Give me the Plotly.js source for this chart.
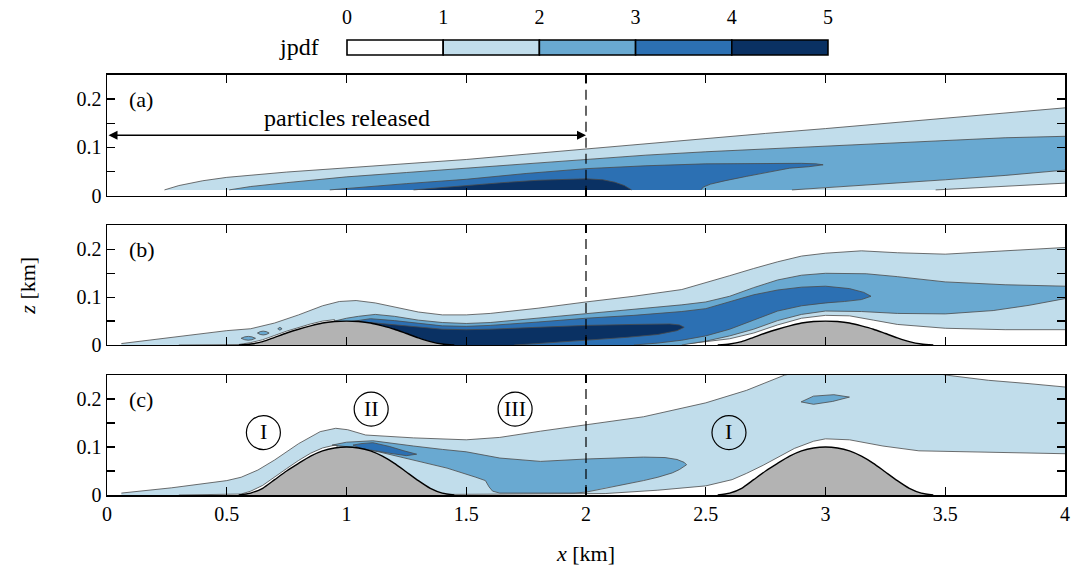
<!DOCTYPE html>
<html><head><meta charset="utf-8">
<script src="https://cdn.plot.ly/plotly-3.0.1.min.js"></script>
<style>html,body{margin:0;padding:0;background:#fff}</style>
</head><body>
<div id="chart" style="width:1082px;height:575px"></div>
<script>
// ---------- colour bar ----------
var cbLevels = [0, 1, 2, 3, 4, 5];
var cbTickText = ['0', '1', '2', '3', '4', '5'];
var levelColors = ['#ffffff', '#c1ddeb', '#69a9d1', '#2c70b3', '#0a3163'];

// ---------- panel (a) ----------
var aL1_topX = [0.24,0.3,0.4,0.5,0.75,1.0,1.25,1.5,1.75,2.0,2.25,2.5,2.75,3.0,3.25,3.5,3.75,4.0];
var aL1_topZ = [0.012,0.021,0.031,0.038,0.049,0.058,0.066,0.075,0.086,0.097,0.108,0.119,0.129,0.139,0.150,0.161,0.172,0.182];
var aL1_botX = [4.0,3.75,3.46,0.24];
var aL1_botZ = [0.026,0.019,0.012,0.012];
var aL2_topX = [0.51,0.6,0.75,1.0,1.25,1.5,1.75,2.0,2.25,2.5,2.75,3.0,3.25,3.5,3.75,4.0];
var aL2_topZ = [0.012,0.019,0.027,0.039,0.048,0.057,0.066,0.075,0.084,0.091,0.097,0.103,0.109,0.115,0.120,0.123];
var aL2_botX = [4.0,3.75,3.5,3.25,3.0,2.86,0.51];
var aL2_botZ = [0.053,0.042,0.033,0.025,0.017,0.012,0.012];
var aL3_topX = [0.93,1.0,1.25,1.5,1.75,2.0,2.25,2.5,2.75,2.9,2.96,2.99];
var aL3_topZ = [0.012,0.015,0.025,0.034,0.046,0.056,0.062,0.066,0.067,0.067,0.066,0.064];
var aL3_botX = [2.99,2.93,2.85,2.75,2.67,2.58,2.52,2.49,2.48,0.93];
var aL3_botZ = [0.064,0.060,0.057,0.048,0.040,0.031,0.024,0.018,0.012,0.012];
var aL4_topX = [1.28,1.4,1.5,1.65,1.8,1.9,2.0,2.07,2.12,2.16,2.18,2.19];
var aL4_topZ = [0.012,0.017,0.022,0.027,0.032,0.034,0.035,0.033,0.028,0.021,0.016,0.012];
var aL4_botX = [2.19,1.28];
var aL4_botZ = [0.012,0.012];

// ---------- panel (b) ----------
var bL1_topX = [0.06,0.2,0.35,0.5,0.6,0.7,0.8,0.9,0.97,1.04,1.12,1.2,1.3,1.4,1.5,1.6,1.8,2.0,2.2,2.4,2.5,2.6,2.7,2.8,2.9,3.0,3.15,3.3,3.5,3.75,4.0];
var bL1_topZ = [0.003,0.012,0.021,0.030,0.034,0.046,0.063,0.082,0.091,0.093,0.088,0.080,0.069,0.063,0.063,0.066,0.077,0.090,0.102,0.116,0.130,0.145,0.160,0.174,0.186,0.192,0.197,0.193,0.190,0.197,0.204];
var bL1_botX = [4.0,3.75,3.5,3.3,3.2,3.1,3.0,2.9,2.8,2.7,2.6,2.45,2.3,0.97,0.95,0.9,0.85,0.8,0.75,0.7,0.65,0.6,0.55,0.3,0.06];
var bL1_botZ = [0.032,0.032,0.035,0.043,0.052,0.061,0.062,0.056,0.042,0.025,0.013,0.004,0.0,0.0,0.053,0.050,0.044,0.037,0.029,0.020,0.011,0.005,0.001,0.0,0.0];
var bL2_topX = [0.95,1.0,1.05,1.12,1.2,1.3,1.4,1.5,1.6,1.8,2.0,2.2,2.4,2.5,2.6,2.7,2.8,2.9,3.0,3.17,3.3,3.5,3.75,4.0];
var bL2_topZ = [0.050,0.056,0.060,0.064,0.060,0.052,0.047,0.045,0.047,0.056,0.066,0.075,0.084,0.090,0.102,0.120,0.136,0.146,0.150,0.149,0.143,0.132,0.126,0.123];
var bL2_botX = [4.0,3.85,3.7,3.5,3.3,3.15,3.0,2.9,2.8,2.7,2.6,2.5,2.4,0.95];
var bL2_botZ = [0.097,0.083,0.072,0.065,0.066,0.070,0.071,0.064,0.051,0.033,0.019,0.008,0.0,0.0];
var bL3_topX = [1.02,1.1,1.2,1.3,1.4,1.5,1.6,1.8,2.0,2.2,2.4,2.5,2.6,2.7,2.8,2.9,3.0,3.1,3.16,3.19];
var bL3_topZ = [0.049,0.055,0.051,0.045,0.040,0.039,0.041,0.048,0.056,0.062,0.070,0.076,0.090,0.105,0.115,0.121,0.123,0.118,0.110,0.102];
var bL3_botX = [3.19,3.15,3.08,3.0,2.9,2.8,2.7,2.6,2.5,2.4,2.3,2.2,1.02];
var bL3_botZ = [0.102,0.095,0.091,0.088,0.082,0.071,0.052,0.033,0.019,0.010,0.004,0.0,0.0];
var bL4_topX = [1.1,1.2,1.25,1.3,1.4,1.5,1.6,1.8,2.0,2.2,2.35,2.39,2.41];
var bL4_topZ = [0.047,0.042,0.040,0.037,0.033,0.032,0.033,0.037,0.041,0.043,0.044,0.042,0.037];
var bL4_botX = [2.41,2.38,2.3,2.17,2.0,1.9,1.8,1.7,1.1];
var bL4_botZ = [0.037,0.030,0.022,0.016,0.010,0.006,0.003,0.0,0.0];
// small patches upstream of the first hill in (b)
var bBlob1_topX = [0.56,0.575,0.59,0.605,0.62], bBlob1_topZ = [0.014,0.017,0.018,0.017,0.014];
var bBlob1_botX = [0.62,0.605,0.59,0.575,0.56], bBlob1_botZ = [0.014,0.011,0.010,0.011,0.014];
var bBlob2_topX = [0.628,0.64,0.652,0.665,0.677], bBlob2_topZ = [0.025,0.028,0.029,0.028,0.025];
var bBlob2_botX = [0.677,0.665,0.652,0.64,0.628], bBlob2_botZ = [0.025,0.022,0.021,0.022,0.025];
var bBlob3_topX = [0.713,0.722,0.731], bBlob3_topZ = [0.034,0.037,0.034];
var bBlob3_botX = [0.731,0.722,0.713], bBlob3_botZ = [0.034,0.031,0.034];

// ---------- panel (c) ----------
var cL1_topX = [0.06,0.27,0.5,0.56,0.63,0.7,0.8,0.89,0.955,1.005,1.08,1.28,1.5,1.64,1.81,2.0,2.24,2.5,2.67,2.83,3.0,3.2,3.4,3.5,3.68,3.85,4.0];
var cL1_topZ = [0.004,0.015,0.030,0.037,0.052,0.073,0.107,0.132,0.139,0.136,0.125,0.119,0.115,0.120,0.133,0.146,0.163,0.192,0.218,0.250,0.265,0.270,0.262,0.250,0.239,0.232,0.225];
var cL1_botX = [4.0,3.75,3.53,3.39,3.24,3.1,3.0,2.95,2.87,2.8,2.74,2.67,2.61,2.5,2.3,2.08,0.97,0.96,0.9,0.85,0.8,0.75,0.7,0.65,0.6,0.56,0.3,0.06];
var cL1_botZ = [0.086,0.088,0.090,0.092,0.102,0.115,0.117,0.112,0.097,0.078,0.062,0.045,0.032,0.019,0.010,0.003,0.0,0.105,0.098,0.087,0.072,0.055,0.037,0.020,0.008,0.002,0.0,0.0];
var cL2_topX = [0.94,1.0,1.11,1.2,1.28,1.4,1.5,1.64,1.81,2.0,2.24,2.33,2.38,2.41,2.42];
var cL2_topZ = [0.104,0.110,0.113,0.108,0.102,0.095,0.090,0.077,0.070,0.075,0.079,0.078,0.074,0.068,0.063];
var cL2_botX = [2.42,2.39,2.36,2.3,2.24,2.15,2.08,2.0,1.95,1.64,1.61,1.595,1.58,1.54,1.42,1.28,1.134,1.05,0.99,0.94];
var cL2_botZ = [0.063,0.053,0.046,0.037,0.030,0.021,0.015,0.006,0.004,0.004,0.008,0.017,0.030,0.037,0.056,0.073,0.090,0.098,0.101,0.104];
var cL3_topX = [1.027,1.06,1.11,1.18,1.24,1.293];
var cL3_topZ = [0.104,0.107,0.109,0.101,0.092,0.085];
var cL3_botX = [1.293,1.25,1.18,1.134,1.06,1.027];
var cL3_botZ = [0.085,0.082,0.087,0.091,0.097,0.104];
var cBlob_topX = [2.898,2.95,3.035,3.1], cBlob_topZ = [0.194,0.206,0.209,0.204];
var cBlob_botX = [3.1,3.03,2.95,2.898], cBlob_botZ = [0.204,0.195,0.189,0.194];

// ---------- hills ----------
var hill1X = [0.55,0.6,0.65,0.7,0.75,0.8,0.85,0.9,0.95,1.0,1.05,1.1,1.15,1.2,1.25,1.3,1.35,1.4,1.45];
var hill2X = [2.55,2.6,2.65,2.7,2.75,2.8,2.85,2.9,2.95,3.0,3.05,3.1,3.15,3.2,3.25,3.3,3.35,3.4,3.45];
var hillBZ = [0,0.002,0.007,0.016,0.025,0.033,0.040,0.046,0.049,0.050,0.049,0.046,0.040,0.033,0.024,0.015,0.007,0.002,0];
var hillCZ = [0,0.004,0.014,0.032,0.050,0.066,0.081,0.092,0.098,0.100,0.098,0.092,0.081,0.066,0.048,0.030,0.014,0.004,0];

// ---------- annotations ----------
var releaseX = [0, 2], releaseZ = 0.125;
var circLabels = ['I', 'II', 'III', 'I'];
var circX = [0.653, 1.103, 1.704, 2.597];
var circZ = [0.130, 0.179, 0.179, 0.130];

// ================= drawing =================
var FONT = '"Liberation Serif", "Times New Roman", Times, serif';
var EDGE = '#4a4a4a';
var traces = [];

function region(tx, tz, bx, bz, color, xa, ya, floor) {
  traces.push({type:'scatter', mode:'lines', xaxis:xa, yaxis:ya,
    x: tx.concat(bx), y: tz.concat(bz), fill:'toself', fillcolor:color,
    line:{width:0}, hoverinfo:'skip', showlegend:false});
  var ex = tx.slice(), ez = tz.slice();
  ex.push(null); ez.push(null);
  var eps = 1e-6;
  for (var i = 0; i < bx.length; i++) {
    var up = bz[i] > floor + eps || (i > 0 && bz[i-1] > floor + eps) || (i < bx.length-1 && bz[i+1] > floor + eps);
    if (up) { ex.push(bx[i]); ez.push(bz[i]); } else { ex.push(null); ez.push(null); }
  }
  traces.push({type:'scatter', mode:'lines', xaxis:xa, yaxis:ya, x:ex, y:ez,
    line:{color:EDGE, width:0.8}, connectgaps:false, hoverinfo:'skip', showlegend:false});
}
function hill(hx, hz, xa, ya) {
  traces.push({type:'scatter', mode:'lines', xaxis:xa, yaxis:ya, x:hx, y:hz,
    fill:'tozeroy', fillcolor:'#b3b3b3', line:{color:'#000', width:1.4, shape:'spline', smoothing:0.6},
    hoverinfo:'skip', showlegend:false});
}

// (a)
region(aL1_topX, aL1_topZ, aL1_botX, aL1_botZ, levelColors[1], 'x', 'y', 0.012);
region(aL2_topX, aL2_topZ, aL2_botX, aL2_botZ, levelColors[2], 'x', 'y', 0.012);
region(aL3_topX, aL3_topZ, aL3_botX, aL3_botZ, levelColors[3], 'x', 'y', 0.012);
region(aL4_topX, aL4_topZ, aL4_botX, aL4_botZ, levelColors[4], 'x', 'y', 0.012);
// (b)
region(bL1_topX, bL1_topZ, bL1_botX, bL1_botZ, levelColors[1], 'x2', 'y2', 0);
region(bL2_topX, bL2_topZ, bL2_botX, bL2_botZ, levelColors[2], 'x2', 'y2', 0);
region(bL3_topX, bL3_topZ, bL3_botX, bL3_botZ, levelColors[3], 'x2', 'y2', 0);
region(bL4_topX, bL4_topZ, bL4_botX, bL4_botZ, levelColors[4], 'x2', 'y2', 0);
region(bBlob1_topX, bBlob1_topZ, bBlob1_botX, bBlob1_botZ, levelColors[2], 'x2', 'y2', 0);
region(bBlob2_topX, bBlob2_topZ, bBlob2_botX, bBlob2_botZ, levelColors[2], 'x2', 'y2', 0);
region(bBlob3_topX, bBlob3_topZ, bBlob3_botX, bBlob3_botZ, levelColors[2], 'x2', 'y2', 0);
hill(hill1X, hillBZ, 'x2', 'y2');
hill(hill2X, hillBZ, 'x2', 'y2');
// (c)
region(cL1_topX, cL1_topZ, cL1_botX, cL1_botZ, levelColors[1], 'x3', 'y3', 0);
region(cL2_topX, cL2_topZ, cL2_botX, cL2_botZ, levelColors[2], 'x3', 'y3', 0);
region(cL3_topX, cL3_topZ, cL3_botX, cL3_botZ, levelColors[3], 'x3', 'y3', 0);
region(cBlob_topX, cBlob_topZ, cBlob_botX, cBlob_botZ, levelColors[2], 'x3', 'y3', 0);
hill(hill1X, hillCZ, 'x3', 'y3');
hill(hill2X, hillCZ, 'x3', 'y3');

// colour bar as bars on its own axis
var cbMid = [], cbOnes = [];
for (var k = 0; k < cbLevels.length - 1; k++) { cbMid.push((cbLevels[k] + cbLevels[k+1]) / 2); cbOnes.push(1); }
traces.push({type:'bar', xaxis:'x4', yaxis:'y4', x:cbMid, y:cbOnes, width:1,
  marker:{color:levelColors, line:{color:'#000', width:1.6}}, hoverinfo:'skip', showlegend:false});

var xTicks = [0,0.5,1,1.5,2,2.5,3,3.5,4];
var xTickText = ['0','0.5','1','1.5','2','2.5','3','3.5','4'];
function xax(anchor, labels) {
  return {domain:[0,1], anchor:anchor, range:[0,4], showline:true, linecolor:'#000', linewidth:1.5,
    mirror:'ticks', ticks:'inside', ticklen:8, tickwidth:1.3, tickcolor:'#000',
    tickvals:xTicks, ticktext:xTickText, showticklabels:labels, showgrid:false, zeroline:false,
    tickfont:{family:FONT, size:20, color:'#000'}};
}
function yax(dom, anchor) {
  return {domain:dom, anchor:anchor, range:[0,0.25], showline:true, linecolor:'#000', linewidth:1.5,
    mirror:'ticks', ticks:'inside', ticklen:8, tickwidth:1.3, tickcolor:'#000',
    tickvals:[0,0.05,0.1,0.15,0.2], ticktext:['0','','0.1','','0.2'],
    showgrid:false, zeroline:false, tickfont:{family:FONT, size:20, color:'#000'}};
}

var layout = {
  width:1082, height:575, margin:{l:107, r:17, t:10, b:80},
  paper_bgcolor:'#fff', plot_bgcolor:'rgba(0,0,0,0)', showlegend:false,
  font:{family:FONT, size:20, color:'#000'},
  xaxis: xax('y', false),
  yaxis: yax([0.6171, 0.8660], 'x'),
  xaxis2: xax('y2', false),
  yaxis2: Object.assign(yax([0.3093, 0.5557], 'x2'), {title:{text:'<i>z</i> [km]', standoff:35, font:{family:FONT, size:22}}}),
  xaxis3: Object.assign(xax('y3', true), {title:{text:'<i>x</i> [km]', standoff:22, font:{family:FONT, size:22}}}),
  yaxis3: yax([0, 0.2474], 'x3'),
  xaxis4: {domain:[0.2455, 0.7576], anchor:'y4', range:[-0.05, 5.05], side:'top',
    tickvals:cbLevels, ticktext:cbTickText, ticks:'', showline:false, showgrid:false, zeroline:false,
    ticklabelstandoff:10, tickfont:{family:FONT, size:20, color:'#000'}, fixedrange:true},
  yaxis4: {domain:[0.9041, 0.9412], anchor:'x4', range:[-0.1, 1.1], visible:false, fixedrange:true},
  shapes: [],
  annotations: []
};

// dashed release line x = 2 in every panel
[['x','y'],['x2','y2'],['x3','y3']].forEach(function(p){
  layout.shapes.push({type:'line', xref:p[0], yref:p[1] + ' domain', x0:releaseX[1], x1:releaseX[1], y0:0, y1:1,
    line:{color:'#000', width:1.2, dash:'10px,6px'}});
});
// panel labels
[['(a)','x','y'],['(b)','x2','y2'],['(c)','x3','y3']].forEach(function(p){
  layout.annotations.push({text:p[0], xref:p[1], yref:p[2], x:0.085, y:0.2, xanchor:'left', yanchor:'middle',
    showarrow:false, font:{family:FONT, size:22}});
});
// release arrow
layout.annotations.push({xref:'x', yref:'y', axref:'x', ayref:'y', x:releaseX[1], y:releaseZ, ax:releaseX[0], ay:releaseZ,
  text:'', showarrow:true, arrowside:'end+start', arrowhead:2, startarrowhead:2, arrowsize:1.2, startarrowsize:1.2,
  arrowwidth:1.5, arrowcolor:'#000', standoff:0, startstandoff:0});
layout.annotations.push({xref:'x', yref:'y', x:1.0, y:0.161, text:'particles released', showarrow:false,
  font:{family:FONT, size:24}});
// colour bar label
layout.annotations.push({xref:'paper', yref:'paper', x:0.2234, y:0.9227, xanchor:'right', yanchor:'middle',
  text:'jpdf', showarrow:false, font:{family:FONT, size:24}});
// circled regime labels in (c)
for (var c = 0; c < circLabels.length; c++) {
  layout.shapes.push({type:'circle', xref:'x3', yref:'y3', xsizemode:'pixel', ysizemode:'pixel',
    xanchor:circX[c], yanchor:circZ[c], x0:-17, x1:17, y0:-17, y1:17, line:{color:'#000', width:1.2}});
  layout.annotations.push({xref:'x3', yref:'y3', x:circX[c], y:circZ[c], text:circLabels[c], showarrow:false,
    font:{family:FONT, size:22}, yshift:1});
}

Plotly.newPlot('chart', traces, layout, {staticPlot:true, displayModeBar:false});
</script>
</body></html>
